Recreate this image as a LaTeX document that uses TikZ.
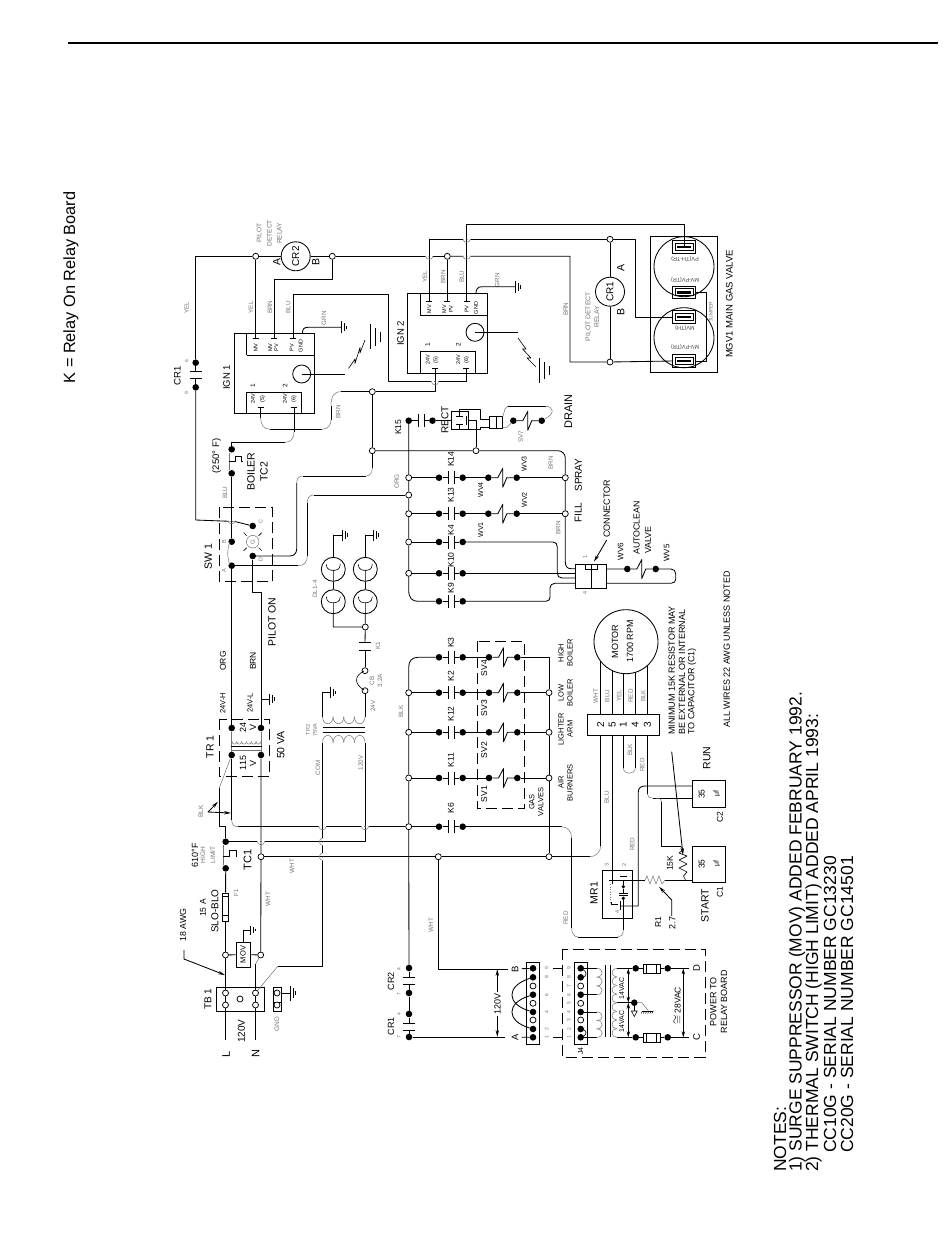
\documentclass[tikz,border=0pt]{standalone}
\usepackage{fontspec}
\setmainfont{Liberation Sans}
\usetikzlibrary{arrows.meta}
\newcount\labcnt
\definecolor{faint}{gray}{0.45}
\tikzset{
 wire/.style={line width=.85pt,black,line join=round},
 gwire/.style={line width=.5pt,faint},
 bx/.style={line width=.85pt,black},
 dbx/.style={line width=.85pt,black,dash pattern=on 11pt off 5pt},
 dotn/.style={circle,fill=black,draw=none,minimum size=6.6pt,inner sep=0pt},
 sdot/.style={circle,fill=black,draw=none,minimum size=3.6pt,inner sep=0pt},
 opn/.style={circle,draw=black,fill=white,line width=.75pt,minimum size=6pt,inner sep=0pt},
 ring/.style={circle,draw=black,line width=.85pt,inner sep=0pt},
 txt/.style={rotate=90,inner sep=0pt,black},
 ar/.style={wire,-{Stealth[length=7pt,width=3.4pt]}},
 dar/.style={wire,{Stealth[length=6pt,width=3.4pt]}-{Stealth[length=6pt,width=3.4pt]}},
}
\newcommand\lab[4]{\global\advance\labcnt by 1 \node[txt,font=\fontsize{#3}{#3}\selectfont] (lab\the\labcnt) at (#1,#2) {#4};}
\newcommand\glab[4]{\global\advance\labcnt by 1 \node[txt,text=faint,font=\fontsize{#3}{#3}\selectfont] (lab\the\labcnt) at (#1,#2) {#4};}
\newcommand\llab[4]{\global\advance\labcnt by 1 \node[txt,anchor=west,font=\fontsize{#3}{#3}\selectfont] (lab\the\labcnt) at (#1,#2) {#4};}
\newcommand\rlab[4]{\global\advance\labcnt by 1 \node[inner sep=0pt,rotate=180,text=black!75,font=\fontsize{#3}{#3}\selectfont] (lab\the\labcnt) at (#1,#2) {#4};}
\newcommand\Dot[3]{\node[dotn] (#1) at (#2,#3) {};}
\newcommand\Opn[3]{\node[opn] (#1) at (#2,#3) {};}
\newcommand\krow[3]{\Dot{#1a}{439}{#2}\Dot{#1b}{462.7}{#2}
 \draw[wire] (#1a) -- (448,#2) (448,#2-6.5) -- (448,#2+6.5) (454,#2-6.5) -- (454,#2+6.5) (454,#2) -- (#1b);
 \lab{451}{#3}{8.5}{#1}}
\newcommand\vlv[5]{\Dot{#1}{#3}{#5}\Dot{#2}{#4}{#5}
 \draw[wire] (#1) -- (#3+9.5,#5) -- (#3+14.5,#5-9.5) -- (#3+14.5,#5+9.5) -- (#3+18.5,#5) -- (#2);}
\newcommand\gnd[3]{\draw[wire] (#1,#2-#3) -- (#1,#2+#3) (#1+3,#2-#3*.65) -- (#1+3,#2+#3*.65) (#1+5.5,#2-#3*.3) -- (#1+5.5,#2+#3*.3);}
\newcommand\hopH[2]{\fill[white] (#1-3.6,#2-1) rectangle (#1-.6,#2+1) (#1+.6,#2-1) rectangle (#1+3.6,#2+1);
 \draw[gwire] (#1-3.6,#2) .. controls (#1-3.6,#2+4) and (#1+3.6,#2+4) .. (#1+3.6,#2);}
\newcommand\hopV[2]{\fill[white] (#1-1,#2-3.6) rectangle (#1+1,#2-.6) (#1-1,#2+.6) rectangle (#1+1,#2+3.6);
 \draw[gwire] (#1,#2-3.6) .. controls (#1-4,#2-3.6) and (#1-4,#2+3.6) .. (#1,#2+3.6);}
\newcommand\Tb[2]{\draw[wire] (#1-3,#2) -- (#1+3,#2);}
\newcommand\hcoil[6][gwire]{\pgfmathsetmacro\cw{(#3-#2)/#6}\foreach \i in {1,...,#6}{\draw[#1] ({#2+(\i-1)*\cw},#4) .. controls ({#2+(\i-1)*\cw},#5) and ({#2+\i*\cw},#5) .. ({#2+\i*\cw},#4);}}
\newcommand\vcoil[6][gwire]{\pgfmathsetmacro\cw{(#5-#4)/#6}\foreach \i in {1,...,#6}{\draw[#1] (#2,{#4+(\i-1)*\cw}) .. controls (#3,{#4+(\i-1)*\cw}) and (#3,{#4+\i*\cw}) .. (#2,{#4+\i*\cw});}}
\newcommand\lamp[3]{\node[ring,minimum size=24pt] (#1) at (#2,#3) {};
 \draw[wire,line width=.6pt] (#2,#3+12) -- (#2,#3+1) (#2-7,#3-5) .. controls (#2-7,#3+1) and (#2-2,#3+1) .. (#2,#3+1) .. controls (#2+2,#3+1) and (#2+7,#3+1) .. (#2+7,#3-5);}
\newcommand\gvt[2]{\draw[bx] (672.7,#2-6.3) rectangle (695.7,#2+6.3) (675.5,#2-3.6) rectangle (693,#2+3.6);
 \draw[black,line width=2.6pt] (677,#2) -- (691,#2); \coordinate (#1) at (673,#2);}
\begin{document}
\begin{tikzpicture}[x=1pt,y=-1pt]
\useasboundingbox (0,0) rectangle (950,1260);
\fill[white] (0,0) rectangle (950,1260);
\coordinate (ruleA) at (68,43); \coordinate (ruleB) at (938,43);
\draw[line width=1.7pt] (ruleA) -- (ruleB);
\lab{71}{287.5}{16.3}{K = Relay On Relay Board}

%% ---------- TB1, MOV, fuse
\draw[bx] (216,987) rectangle (264,1011);
\Opn{tbLa}{225.5}{993}\Opn{tbLb}{225.5}{1005}\Opn{tbC}{240}{999}\Opn{tbNa}{255.5}{993}\Opn{tbNb}{255.5}{1005}
\coordinate (Lend) at (225.5,1040); \coordinate (Nend) at (255.5,1040);
\Opn{movL}{225.5}{955}\Opn{movN}{260.7}{955}
\node[draw,bx,minimum width=14pt,minimum height=25pt,inner sep=0pt] (mov) at (243,954.5) {};
\lab{243}{954.5}{7.5}{MOV}
\node[draw,bx,minimum width=6pt,minimum height=28pt,inner sep=0pt] (fuse) at (225.5,907) {};
\draw[bx] (222.5,896.7) -- (228.5,896.7) (222.5,915.5) -- (228.5,915.5);
\draw[wire] (Lend) -- (tbLb) (tbLb) -- (tbLa) (tbLa) -- (movL) (movL) -- (fuse);
\draw[wire] (Nend) -- (tbNb) (tbNb) -- (tbNa) (tbNa) -- (255.5,964);
\draw[gwire] (255.5,964) -- (movN);
\draw[wire] (movL) -- (mov) (mov) -- (movN);
\draw[wire] (mov) -- (243,930) -- (250,930); \gnd{250}{930}{4.5}
\draw[gwire] (tbNa) -- (278,966);
\draw[wire] (278,966) -- (322.5,966) -- (322.5,742.7);
\draw[bx] (273,987) rectangle (281,1011) (273,1002) -- (281,1002);
\Opn{gndA}{277}{993}\Opn{gndB}{277}{1005}
\draw[wire] (281,993) -- (290,993); \gnd{290}{993}{7.5}
\coordinate (awgA) at (184,950); \coordinate (awgB) at (225,975);
\draw[ar] (awgA) -- (184,959) -- (awgB);
\lab{208}{999}{10}{TB 1}\lab{241.5}{1031}{10}{120V}\lab{226}{1054}{11}{L}\lab{255.5}{1054}{11}{N}
\glab{277}{1024}{6.5}{GND}\glab{236}{893}{6}{F1}\lab{203}{908}{8.5}{15 A}\lab{215}{911}{10}{SLO-BLO}
\lab{183}{925}{8.8}{18 AWG}\glab{268}{899}{6.3}{WHT}\glab{431}{925}{6.3}{WHT}

%% ---------- TC1, TR1
\Dot{tcA}{225.7}{841.7}\Dot{tcB}{225.7}{868.3}
\draw[wire] (fuse) -- (tcB);
\draw[gwire] (223,845) -- (223,865);
\draw[wire] (223,856.7) -- (229.3,856.7) -- (229.3,850.7) -- (236,850.7) -- (236,856.7);
\Opn{tcW}{261}{856.7}
\lab{195}{855}{9}{610°F}\glab{203}{855}{6.5}{HIGH}\glab{213}{855}{6.5}{LIMIT}\lab{247.7}{860}{11}{TC1}
\glab{292}{866}{6.3}{WHT}
\draw[dbx] (219.3,719) rectangle (269.3,776.7);
\Dot{trLt}{231.7}{728}\Dot{trRt}{261}{728}\Dot{trLb}{231.7}{755}\Dot{trRb}{261}{755}
\draw[gwire] (trLt) -- (trLb) (trRt) -- (trRb);
\hcoil{232}{261}{741.5}{745}{6}
\draw[wire,line width=.6pt] (231,746) -- (262,746); \draw[gwire] (231,750) -- (262,750);
\lab{243}{727.7}{9}{24}\lab{253}{727.7}{9}{V}\lab{243}{763}{9}{115}\lab{253}{763}{9}{V}
\lab{210}{746.7}{10.5}{TR 1}\lab{280.7}{745}{10.5}{50 VA}
\lab{222.7}{703}{7.5}{24V-H}\lab{250}{703}{7.5}{24V-L}\lab{223}{661}{8.5}{ORG}\lab{253}{661}{8.5}{BRN}
\draw[wire] (261,699) -- (269,699); \gnd{269}{699}{5.5}
\draw[gwire] (trLb) -- (219.3,788);
\draw[wire] (219.3,788) -- (219.3,826.7) -- (225.7,826.7) -- (tcA);
\Opn{k6o}{408.7}{826.7}
\draw[wire] (trLb) -- (231.7,820);
\draw[gwire] (231.7,820) .. controls (231.7,825) and (234,826.7) .. (238,826.7);
\draw[wire] (238,826.7) -- (k6o);
\coordinate (blkO) at (208,812);
\draw[ar] (blkO) -- (218,801.7);
\draw[ar] (blkO) -- (231,813);
\glab{201}{811.7}{6.5}{BLK}
\draw[wire] (tcA) -- (365,841.7) -- (365,742.7);
\draw[wire] (trRb) -- (tcW) (tcW) -- (movN);

%% ---------- TR2, CB, K1, lamps
\hcoil{322.5}{365}{716.7}{726}{4}
\draw[wire] (322.5,727) -- (365,727) (322.5,732) -- (365,732);
\hcoil{322.5}{365}{742.7}{733}{4}
\draw[wire] (322.5,717) -- (322.5,692.7) -- (330,692.7); \gnd{330}{692.7}{5.5}
\Opn{cbA}{365}{690.7}\Opn{cbB}{365}{670.7}
\draw[wire] (365,717) -- (cbA);
\draw[wire,line width=.6pt] (364,690) .. controls (354,684) and (354,676) .. (364,671);
\draw[wire] (cbB) -- (365,650.7) (359,650.7) -- (371,650.7) (359,642.7) -- (371,642.7);
\glab{308}{730}{5.5}{TR2}\glab{315}{730}{5.5}{75VA}\glab{318}{768}{6.3}{COM}\glab{360.7}{763}{6.3}{120V}
\glab{373}{706}{6.3}{24V}\glab{372}{680.7}{6.3}{CB}\glab{380}{680.7}{6.3}{3.2A}\glab{378}{646}{6.3}{K1}
\glab{315}{589}{6.3}{DL1-4}
\lamp{dlA}{333.3}{569.3}\lamp{dlB}{333.3}{601.7}\lamp{dlC}{365.3}{569.3}\lamp{dlD}{365.3}{601.7}
\Opn{dlJ}{365.3}{627}
\draw[wire] (dlA) -- (dlB) (dlC) -- (dlD);
\draw[wire] (dlB) -- (333.3,627) -- (dlJ) (dlD) -- (dlJ) (dlJ) -- (365,642.7);
\draw[wire] (dlA) -- (333.3,535) -- (342,535); \gnd{342}{535}{5.5}
\draw[wire] (dlC) -- (365.3,535) -- (373,535); \gnd{373}{535}{5.5}

%% ---------- SW1, TC2
\draw[dbx] (219.3,507.3) rectangle (272.3,581.7);
\Dot{swA}{231.7}{565.7}\Dot{swB}{231.7}{541.7}\Dot{swC}{252.7}{526}\Dot{swD}{252.7}{556}
\node[ring,line width=.5pt,draw=faint,minimum size=12.6pt] (swG) at (252.7,541.7) {};
\glab{252.7}{541.7}{6}{G}
\draw[wire,line width=.6pt] (246.7,535.7) -- (243.7,532.7) (258.7,535.7) -- (261.7,532.7) (246.7,547.7) -- (243.7,550.7) (258.7,547.7) -- (261.7,550.7);
\draw[gwire] (229.8,565) .. controls (227,556) and (227,550) .. (229.8,542);
\draw[wire] (swA) -- (trLt);
\draw[wire] (swD) -- (252.7,592.3) -- (261,592.3) -- (trRt);
\Dot{tc2A}{231.7}{449.3}\Dot{tc2B}{231.7}{473.3}
\draw[wire] (swB) -- (tc2B);
\draw[gwire] (229.5,453) -- (229.5,470);
\draw[wire] (229.3,461.7) -- (235,461.7) -- (235,456) -- (241,456) -- (241,461.7) -- (243.3,461.7);
\lab{216.7}{456}{9.5}{(250° F)}\lab{251}{471.7}{10.5}{BOILER}\lab{264}{471.7}{10.5}{TC2}
\glab{225}{492.7}{6.3}{BLU}\lab{208.3}{556.7}{10.5}{SW 1}
\glab{224}{571}{5.5}{A}\glab{224}{541.7}{5.5}{B}\glab{260.7}{521.7}{5.5}{C}\glab{260.7}{560}{5.5}{D}
\lab{272}{622}{10.5}{PILOT ON}
\Opn{busO}{408.7}{495}
\draw[wire] (swA) -- (298,565.7);
\draw[gwire] (298,565.7) .. controls (304,565.7) and (307.3,562) .. (307.3,556);
\draw[wire] (307.3,556) -- (307.3,503);
\draw[gwire] (307.3,503) .. controls (307.3,498) and (309,495) .. (314,495);
\draw[wire] (314,495) -- (busO);
\Opn{brnJ}{372.3}{450.7}\Opn{brnT}{372.3}{391.7}
\draw[wire] (swD) -- (290,556) .. controls (294,556) and (296.7,553) .. (296.7,549) -- (296.7,483);
\draw[gwire] (296.7,483) .. controls (296.7,478) and (299,476) .. (303,476);
\draw[wire] (303,476) -- (366,476);
\draw[gwire] (366,476) .. controls (370,476) and (372.3,473) .. (372.3,468);
\draw[wire] (372.3,468) -- (brnJ) (brnJ) -- (brnT);
\Dot{cr1a}{195.7}{362.7}\Dot{cr1b}{195.7}{387.3}
\draw[wire] (swC) -- (235,521.5) -- (195.7,520) -- (cr1b);
\draw[wire] (cr1b) -- (195.7,378.3) (189.7,378.3) -- (201.7,378.3) (189.7,371.7) -- (201.7,371.7) (195.7,371.7) -- (cr1a);
\lab{177.3}{376}{9.5}{CR1}\glab{186.7}{360.7}{5}{6}\glab{186.7}{393.3}{5}{9}\glab{186.7}{307.7}{6.3}{YEL}
\node[ring,minimum size=29pt] (cr2) at (295.7,256.3) {};
\lab{295.7}{256.3}{10}{CR2}
\Opn{yelJ}{255.7}{256.3}\Opn{brnK}{332.3}{256.3}\Opn{brnL}{447.3}{256.3}
\draw[wire] (cr1a) -- (195.7,256.3) -- (yelJ) (yelJ) -- (cr2) (cr2) -- (brnK) (brnK) -- (brnL);
\lab{276.7}{262.3}{10.5}{A}\lab{315.7}{262.3}{10.5}{B}
\glab{259}{233.3}{6.6}{PILOT}\glab{269.3}{233.3}{6.6}{DETECT}\glab{279.3}{233.3}{6.6}{RELAY}

%% ---------- IGN1
\draw[bx] (234.3,333.3) rectangle (314.7,413.3);
\draw[bx] (246.7,355) -| (314.7,333.3) (246.7,333.3) -- (246.7,355);
\draw[bx] (246.7,392.3) rectangle (301.7,413.3);
\lab{226.7}{377.3}{9.5}{IGN 1}
\lab{255.7}{347.7}{5.5}{MV}\lab{270.3}{347.7}{5.5}{MV}\lab{276.3}{347.7}{5.5}{PV}\lab{291.7}{347.7}{5.5}{PV}\lab{300.7}{346}{5.5}{GND}
\lab{253}{385.7}{6.5}{1}\lab{285}{385.7}{6.5}{2}\lab{253}{399}{5.5}{24V}\lab{262.7}{399}{5.5}{(5)}\lab{285}{399}{5.5}{24V}\lab{294}{399}{5.5}{(6)}
\draw[wire] (yelJ) -- (255.7,338.5); \Tb{255.7}{338.5}
\draw[wire] (brnK) -- (332.3,279.3) -- (274,279.3) -- (274,338.5); \Tb{274}{338.5}
\Tb{293.3}{338.5}
\draw[wire] (302.5,333) .. controls (302.5,329) and (304,327.3) .. (308,327.3) -- (341,327.3); \Tb{302.5}{333}\gnd{341}{327.3}{6}
\glab{251}{307.3}{6.3}{YEL}\glab{270}{307.3}{6.3}{BRN}\glab{288.3}{307.3}{6.3}{BLU}\glab{324}{318.3}{6.3}{GRN}
\node[ring,minimum size=18pt] (igA) at (301.7,374) {};
\coordinate (igAs) at (345,374);
\draw[wire] (igA.center) -- (igAs);
\draw[wire,line width=.6pt] (348.5,368.5) -- (355,359) -- (355,363.5) -- (360,347.5) -- (360,353) -- (365,340);
\draw[wire] (370,324.3) -- (370,349) (375.5,328) -- (375.5,345.5) (380,331.5) -- (380,342);
\Tb{260.7}{407.7}\Tb{294}{407.7}
\draw[wire] (260.7,407.7) -- (260.7,418);
\draw[gwire] (260.7,418) .. controls (260.7,425) and (264,429.3) .. (270,429.3);
\draw[wire] (270,429.3) -- (321.7,429.3);
\draw[gwire] (321.7,429.3) .. controls (328,429.3) and (331,425) .. (331,420);
\draw[wire] (331,420) -- (331,406);
\draw[gwire] (331,406) .. controls (331,396) and (334,391.7) .. (341,391.7);
\draw[wire] (341,391.7) -- (brnT) (brnT) -- (435,391.7) -- (435,368);
\draw[wire] (294,407.7) -- (294,432);
\draw[gwire] (294,432) .. controls (294,438) and (291,442.3) .. (285,442.3);
\draw[wire] (285,442.3) -- (231.7,442.3) -- (tc2A);
\glab{338.3}{411.7}{6.3}{BRN}

%% ---------- IGN2
\draw[bx] (407.3,293.3) rectangle (487.7,373.3);
\draw[bx] (420.7,293.3) |- (487.7,315.7);
\draw[bx] (420,351) rectangle (475.7,373.3);
\lab{400.7}{333.3}{9.5}{IGN 2}
\lab{429.3}{309.3}{5.5}{MV}\lab{444.3}{309.3}{5.5}{MV}\lab{451}{309.3}{5.5}{PV}\lab{466.7}{309.3}{5.5}{PV}\lab{476}{308}{5.5}{GND}
\lab{427.7}{345}{6.5}{1}\lab{458.3}{345}{6.5}{2}\lab{427.7}{360}{5.5}{24V}\lab{436}{360}{5.5}{(5)}\lab{458.3}{360}{5.5}{24V}\lab{466.7}{360}{5.5}{(6)}
\Tb{429.3}{301}\Tb{447.3}{301}\Tb{466.7}{301}\Tb{435}{368}\Tb{466}{368}
\draw[wire] (brnL) -- (447.3,301);
\glab{425}{276.7}{6.3}{YEL}\glab{443.3}{276.7}{6.3}{BRN}\glab{461.7}{276.7}{6.3}{BLU}\glab{497.3}{280}{6.3}{GRN}
\draw[wire] (476,293) .. controls (476,289) and (478,286.7) .. (482,286.7) -- (515,286.7); \Tb{476}{293}\gnd{515}{286.7}{6}
\node[ring,minimum size=18pt] (igB) at (475,332.3) {};
\coordinate (igBs) at (518.3,332.3);
\draw[wire] (igB.center) -- (igBs);
\draw[wire,line width=.6pt] (518,338) -- (526,349) -- (522.5,349) -- (531,358) -- (527,358) -- (536,367);
\draw[wire] (539,358) -- (539,383) (544,362) -- (544,379) (549,366) -- (549,375);
\draw[wire] (293.3,338.5) -- (293.3,294.3) -- (388.3,294.3) -- (388.3,381.7) -- (466,381.7) -- (466,368);

%% ---------- CR1 pilot relay and gas valve
\draw[bx] (650.3,236.7) rectangle (717.3,372.3);
\node[ring,minimum size=60pt] (gvA) at (684,266.7) {};
\node[ring,minimum size=60pt] (gvB) at (684,337.7) {};
\gvt{tA}{247}\gvt{tB}{292.3}\gvt{tC}{317}\gvt{tD}{361}
\rlab{685}{259.3}{5.5}{PV(TH-TR)}\rlab{685}{280}{5.5}{MV-PV(TR)}\rlab{685}{327.7}{5.5}{MV(TH)}\rlab{685}{347.3}{5.5}{MV-PV(TR)}
\draw[wire] (695.7,292.3) -- (706.7,292.3) -- (706.7,361) -- (695.7,361);
\glab{711}{311.7}{5}{JUMPER}\lab{729.3}{304}{9.5}{MGV1 MAIN GAS VALVE}
\node[ring,minimum size=29pt] (cr1r) at (610,291.7) {};
\lab{610}{291.7}{10}{CR1}
\Opn{cr1A}{610}{239.3}\Opn{cr1B}{610}{362}
\draw[wire] (cr1A) -- (cr1r) (cr1r) -- (cr1B);
\draw[wire] (429.3,301) -- (429.3,239.3) -- (cr1A) (cr1A) -- (635.7,239.3) -- (635.7,317) -- (tC);
\draw[wire] (466.7,301) -- (466.7,224) -- (684.7,224) -- (684.7,247);
\draw[wire] (brnL) -- (570,256.3) -- (570,362) -- (cr1B) (cr1B) -- (tD);
\lab{620.7}{268}{10.5}{A}\lab{620.7}{311.7}{10.5}{B}
\glab{588}{316.7}{6.8}{PILOT DETECT}\glab{596.7}{316.7}{6.8}{RELAY}\glab{565.7}{309.3}{6.3}{BRN}

%% ---------- K15, rectifier, drain valve
\Dot{kXa}{408.7}{420.7}\Dot{kXb}{432.5}{420.7}
\draw[wire] (kXa) -- (418.3,420.7) (418.3,414.2) -- (418.3,427.2) (424.3,414.2) -- (424.3,427.2) (424.3,420.7) -- (kXb);
\lab{398.3}{427.3}{8.5}{K15}\lab{445}{420}{10}{RECT}
\draw[bx] (451,411) rectangle (468.3,429);
\draw[wire] (kXb) -- (451,420.7);
\Opn{brnR}{476}{450.7}
\draw[wire] (459.3,417) -- (459.3,409.3) -- (480,409.3) -- (480,419) -- (489.3,419);
\draw[wire] (459.3,424) -- (459.3,429.3) -- (480,429.3) -- (480,427.3) -- (489.3,427.3);
\draw[wire] (456,416) -- (463,416) (456,424.3) -- (463,424.3) (466.5,416) -- (466.5,425);
\draw[wire] (468.3,420.7) -- (476,420.7) -- (brnR);
\draw[bx] (489.3,416.7) rectangle (502.7,428.3) (496,416.7) -- (496,428.3);
\vlv{svA}{svB}{513.3}{541.7}{420.7}
\draw[gwire] (502.7,417) -- (505,409) -- (508,406);
\draw[wire] (508,406) -- (546,406);
\draw[gwire] (546,406) .. controls (553,407) and (556,413) .. (svB);
\draw[gwire] (502.7,427.3) -- (507,427.3) -- (svA);
\glab{520.7}{436.7}{6.3}{SV7}\lab{568.3}{411.7}{11}{DRAIN}

%% ---------- upper relay rows
\Opn{r14}{408.7}{477.7}\Opn{r13}{408.7}{513.7}\Opn{r4}{408.7}{542}\Opn{r10}{408.7}{573.3}
\krow{K14}{477.7}{459.3}\krow{K13}{513.7}{495}\krow{K4}{542}{530}\krow{K10}{573.3}{560}\krow{K9}{601.3}{588}
\draw[wire] (kXa) -- (r14) (r14) -- (busO) (busO) -- (r13) (r13) -- (r4) (r4) -- (r10) (r10) -- (408.7,590) .. controls (408.7,598) and (412,601.3) .. (418,601.3) -- (K9a);
\draw[wire] (r14) -- (K14a) (r13) -- (K13a) (r4) -- (K4a) (r10) -- (K10a);
\glab{396.7}{481.7}{6.3}{ORG}
\vlv{wvD}{wvC}{488.3}{516.7}{477.7}
\vlv{wvA}{wvB}{488.3}{516.7}{513.7}
\Opn{sprO}{565.3}{477.7}\Opn{filO}{565.3}{513.7}
\draw[wire] (K14b) -- (wvD) (wvC) -- (sprO) (K13b) -- (wvA) (wvB) -- (filO);
\draw[wire] (brnJ) -- (brnR) (brnR) -- (558,450.7) .. controls (562,450.7) and (565.3,454) .. (565.3,458) -- (sprO) (sprO) -- (filO) (filO) -- (565.3,562) .. controls (565.3,566) and (567,568.7) .. (571,568.7) -- (575,568.7);
\glab{550.7}{462.7}{6.3}{BRN}\glab{558.3}{528}{6.3}{BRN}
\lab{578.3}{475}{10}{SPRAY}\lab{578.3}{512.7}{10}{FILL}
\lab{524.3}{464}{7}{WV3}\lab{524.3}{500}{7}{WV2}\lab{480.7}{490}{7}{WV4}\lab{480.7}{530}{7}{WV1}
\draw[bx] (575,564.3) rectangle (606.7,588.3) (591,564.3) -- (591,588.3) (585.7,564.3) rectangle (597.7,569);
\draw[wire] (K4b) -- (553,542) .. controls (556,542) and (557.3,544) .. (557.3,547) -- (557.3,573) .. controls (557.3,576) and (559,578) .. (562,578) -- (575,578);
\draw[wire] (K10b) -- (575,573.3);
\draw[wire] (K9b) -- (546,601.3) .. controls (549,601.3) and (550,599) .. (550,597) -- (550,588) .. controls (550,585) and (552,583.3) .. (555,583.3) -- (575,583.3);
\vlv{wvF}{wvG}{627.3}{655.7}{569}
\draw[wire] (606.7,569) -- (wvF) (wvG) -- (671,569) .. controls (674,569) and (675.7,571) .. (675.7,574) -- (675.7,579) .. controls (675.7,581.5) and (674,583.3) .. (671,583.3) -- (606.7,583.3);
\coordinate (connA) at (606.7,540); \coordinate (connB) at (594,561.7);
\draw[ar] (connA) -- (connB);
\lab{606.7}{509}{9}{CONNECTOR}\glab{585}{556.7}{5.5}{1}\glab{585}{592.7}{5.5}{4}
\lab{620.7}{551.7}{8}{WV6}\lab{636.7}{528}{8.8}{AUTOCLEAN}\lab{648}{540}{8.8}{VALVE}\lab{666.7}{553}{8}{WV5}

%% ---------- lower relay rows
\Opn{r2}{408.7}{692.7}\Opn{r12}{408.7}{732.3}\Opn{r11}{408.7}{778}
\krow{K3}{657.3}{642.5}\krow{K2}{692.7}{676}\krow{K12}{732.3}{714}\krow{K11}{778}{760}\krow{K6}{826.7}{808}
\Dot{cr2a}{409}{968}\Dot{cr2b}{409}{993}\Dot{crBa}{409}{1014}\Dot{crBb}{409}{1037}
\draw[wire] (K3a) -- (418,657.3) .. controls (412,657.3) and (408.7,661) .. (408.7,667) -- (r2) (r2) -- (r12) (r12) -- (r11) (r11) -- (k6o) (k6o) -- (cr2a);
\draw[wire] (r2) -- (K2a) (r12) -- (K12a) (r11) -- (K11a) (k6o) -- (K6a);
\draw[wire] (cr2a) -- (409,977) (403,977) -- (415,977) (403,984) -- (415,984) (409,984) -- (cr2b) (crBa) -- (409,1023.3) (403,1023.3) -- (415,1023.3) (403,1030) -- (415,1030) (409,1030) -- (crBb);
\draw[wire] (cr2b) -- (crBa);
\lab{391}{981}{9}{CR2}\lab{391}{1026}{9}{CR1}\glab{399}{969}{5}{4}\glab{399}{994}{5}{7}\glab{399}{1014}{5}{4}\glab{399}{1037}{5}{7}
\glab{401}{711.7}{6.3}{BLK}
\vlv{s4a}{s4b}{489}{517.3}{657.3}
\vlv{s3a}{s3b}{489}{517.3}{692.7}
\vlv{s2a}{s2b}{489}{517.3}{732.3}
\vlv{s1a}{s1b}{489}{517.3}{778}
\draw[dbx] (477.3,641) rectangle (524.3,808.3);
\draw[wire] (K3b) -- (s4a) (K2b) -- (s3a) (K12b) -- (s2a) (K11b) -- (s1a);
\Opn{rR2}{549}{692.7}\Opn{rR12}{549}{732.3}\Opn{rR11}{549}{778}\Opn{rRW}{549}{856.7}
\draw[wire] (s4b) -- (549,657.3) -- (rR2) (rR2) -- (rR12) (rR12) -- (rR11) (rR11) -- (rRW);
\draw[wire] (s3b) -- (rR2) (s2b) -- (rR12) (s1b) -- (rR11);
\lab{484.3}{668}{8.5}{SV4}\lab{484.3}{708}{8.5}{SV3}\lab{484.3}{750}{8.5}{SV2}\lab{484.3}{794}{8.5}{SV1}
\lab{531.7}{802}{7.5}{GAS}\lab{540.7}{802}{7.5}{VALVES}
\lab{561}{782.7}{7.5}{AIR}\lab{570}{782.7}{7.5}{BURNERS}\lab{561}{729}{7.5}{LIGHTER}\lab{570}{729}{7.5}{ARM}
\lab{561}{692.7}{7.5}{LOW}\lab{570}{692.7}{7.5}{BOILER}\lab{561}{653}{7.5}{HIGH}\lab{570}{653}{7.5}{BOILER}
\Opn{wht2}{438.3}{856.7}
\draw[wire] (tcW) -- (wht2) (wht2) -- (rRW) (rRW) -- (590,856.7);
\draw[gwire] (590,856.7) .. controls (596,856.7) and (600.7,852) .. (600.7,846);
\coordinate (blockB) at (508,969);
\draw[wire] (wht2) -- (438.3,969) -- (blockB);
\coordinate (blockA) at (505,1037);
\draw[wire] (crBb) -- (blockA);

%% ---------- motor
\node[ring,minimum size=64pt] (motor) at (626,641.7) {};
\lab{615}{641.7}{9}{MOTOR}\lab{630}{641.7}{9}{1700 RPM}
\draw[bx] (587.3,714.3) rectangle (659.3,735.3);
\draw[wire] (600.7,661) -- (600.7,714.3) (612.3,670.7) -- (612.3,714.3) (623.3,673.6) -- (623.3,714.3) (635.3,672.3) -- (635.3,714.3) (647.3,665.6) -- (647.3,714.3);
\lab{600.7}{725}{10}{2}\lab{612.3}{725}{10}{5}\lab{623.3}{725}{10}{1}\lab{635.3}{725}{10}{4}\lab{647.3}{725}{10}{3}
\glab{595.7}{696}{6.3}{WHT}\glab{607.3}{696}{6.3}{BLU}\glab{619.3}{696}{6.3}{YEL}\glab{630.7}{696}{6.3}{RED}\glab{643.3}{696}{6.3}{BLK}
\draw[wire] (600.7,735.3) -- (600.7,846);
\draw[wire] (612.3,735.3) -- (612.3,880);
\draw[wire] (623.3,735.3) -- (623.3,768);
\draw[gwire] (623.3,768) .. controls (623.3,775) and (635.3,775) .. (635.3,768);
\draw[wire] (635.3,768) -- (635.3,735.3);
\draw[wire] (647.3,735.3) -- (647.3,794);
\draw[gwire] (647.3,794) .. controls (647.3,797) and (650,798.3) .. (653,798.3);
\glab{630}{750}{6.3}{BLK}\glab{642.3}{765}{6.3}{RED}\glab{606.7}{797.3}{6.3}{BLU}\glab{632.3}{844.3}{6.3}{RED}\glab{565.7}{918}{6.3}{RED}
\draw[bx] (692.3,780.7) rectangle (725.3,807.3);
\draw[bx] (692.3,846.7) rectangle (725.3,882);
\lab{701.7}{794}{8.5}{35}\lab{716.7}{794}{7}{µf}\lab{701.7}{864}{8.5}{35}\lab{716.7}{864}{7}{µf}
\lab{706.7}{758}{10.5}{RUN}\lab{720}{816.7}{8.5}{C2}\lab{705}{905.7}{10.5}{START}\lab{720}{891.7}{8.5}{C1}
\draw[wire] (692.3,786) -- (645,786) .. controls (641,786) and (638.3,788) .. (638.3,792) -- (638.3,906) -- (620,906);
\draw[wire] (653,798.3) -- (692.3,798.3);
\draw[gwire] (656,798.3) .. controls (660,798.3) and (661.7,799) .. (661.7,802);
\draw[wire] (661.7,802) -- (661.7,846.7) -- (681,846.7);
\draw[wire,line width=.65pt] (681,846.7) -- (683,850) -- (679,853) -- (687,856) -- (679,860) -- (687,864) -- (679,868) -- (687,872) -- (683.5,876) -- (685.5,880);
\coordinate (rArrowA) at (671.7,751.7); \coordinate (rArrowB) at (683,855);
\draw[ar] (rArrowA) -- (rArrowB);
\lab{670}{863.3}{8.5}{15K}
\llab{671.7}{735}{9}{MINIMUM 15K RESISTOR MAY}
\llab{682}{735}{9}{BE EXTERNAL OR INTERNAL}
\llab{692}{735}{9}{TO CAPACITOR (C1)}
\llab{726.7}{728}{9}{ALL WIRES 22 AWG UNLESS NOTED}
\draw[bx] (602.7,870) rectangle (632.7,918.3);
\lab{594}{893}{10.5}{MR1}\glab{606.7}{865}{5.5}{3}\glab{624.3}{865}{5.5}{2}\glab{617.3}{911.7}{5.5}{4}
\draw[wire] (609,880) -- (645,880);
\draw[wire,line width=.5pt] (612,876) -- (612,884) (620,876.5) -- (627,876.5);
\draw[gwire,dotted,line width=.8pt] (610.7,884) -- (610.7,902);
\draw[wire] (611,902) -- (611,904.3) -- (618,904.3) (620,901) -- (620,910);
\node[sdot] (mrA) at (623.3,886.7) {}; \node[sdot] (mrB) at (623.3,898.3) {};
\draw[wire] (623.3,880) -- (mrA) (mrA) -- (623.3,893.3) (619,893.3) -- (627.7,893.3) (619,895.3) -- (627.7,895.3) (623.3,895.3) -- (mrB);
\draw[wire] (mrB) -- (623.3,930);
\draw[gwire] (623.3,930) .. controls (623.3,935) and (621,937) .. (618,937);
\draw[wire] (618,937) -- (578,937);
\draw[gwire] (578,937) .. controls (574,937) and (571.7,933) .. (571.7,928);
\draw[wire] (571.7,928) -- (571.7,838);
\draw[gwire] (571.7,838) .. controls (571.7,831) and (567,826.7) .. (561.7,826.7);
\draw[wire] (K6b) -- (561.7,826.7);
\draw[gwire] (645,880) -- (647,876) -- (650,884) -- (653,876) -- (656,884) -- (659,876) -- (662,884) -- (665,880);
\draw[wire] (665,880) -- (692.3,880);
\coordinate (rOneA) at (671.7,916); \coordinate (rOneB) at (659,886.7);
\draw[ar] (rOneA) -- (671.7,900) -- (rOneB);
\lab{658.3}{922}{8.5}{R1}\lab{672.3}{923}{9}{2.7}

%% ---------- power to relay board
\draw[bx] (526.7,962.7) rectangle (539.3,1044);
\Dot{a1}{533}{1037.3}\Dot{a2}{533}{1029}\Opn{a3}{533}{1020}\Dot{a4}{533}{1012}\Opn{a5}{533}{1003.3}\Dot{a6}{533}{994.7}\Opn{a7}{533}{986}\Dot{a8}{533}{977.3}\Dot{a9}{533}{968.3}
\draw[wire] (521.7,1037.3) -- (a1) (521.7,968.7) -- (a9);
\draw[wire] (a8) .. controls (506,986) and (506,1004) .. (a4);
\draw[wire] (a6) .. controls (506,1003) and (506,1021) .. (a2);
\lab{515}{1037}{9.5}{A}\lab{515}{969}{9.5}{B}
\coordinate (vA) at (497.3,969); \coordinate (vB) at (497.3,1037); \coordinate (vMa) at (497.3,992); \coordinate (vMb) at (497.3,1016);
\draw[ar] (vMa) -- (vA); \draw[ar] (vMb) -- (vB);
\lab{497.5}{1004}{9}{120V}
\glab{546.7}{1037.3}{5}{1}\glab{546.7}{1029}{5}{2}\glab{546.7}{1012}{5}{4}\glab{546.7}{994.7}{5}{6}\glab{546.7}{977.3}{5}{8}\glab{546.7}{968.3}{5}{9}
\draw[wire] (553,1037.3) -- (561.5,1037.3) (553,968.3) -- (561.5,968.3);
\draw[dbx] (562.3,949.3) rectangle (705.3,1057.3);
\draw[bx] (574.3,962.7) rectangle (587.3,1044);
\Dot{b1}{580.7}{1037.3}\Dot{b2}{580.7}{1029}\Opn{b3}{580.7}{1020}\Dot{b4}{580.7}{1012}\Opn{b5}{580.7}{1003.3}\Dot{b6}{580.7}{994.7}\Opn{b7}{580.7}{986}\Dot{b8}{580.7}{977.3}\Dot{b9}{580.7}{968.3}
\foreach \n/\yy in {1/1037.3,2/1029,3/1020,4/1012,5/1003.3,6/994.7,7/986,8/977.3,9/968.3}{\glab{569}{\yy}{5}{\n}}
\lab{580.7}{1051}{7}{J4}
\draw[wire,line width=.6pt] (582,969) .. controls (588,972) and (587,976) .. (582,978) (582,1029) .. controls (587,1031) and (588,1034) .. (582,1037);
\draw[wire] (b9) -- (596.7,968.3) (b6) -- (596.7,994.7) (b4) -- (596.7,1012) (b1) -- (596.7,1037.3);
\vcoil{596.7}{604}{968.3}{994.7}{3}
\vcoil{596.7}{604}{1012}{1037.3}{3}
\draw[wire] (605,965) -- (605,1037.3) (610,965) -- (610,1037.3);
\vcoil{616.7}{610.5}{968.3}{1002.7}{4}
\vcoil{616.7}{610.5}{1002.7}{1037.3}{4}
\Dot{dTop}{635.7}{968.3}\Dot{dBot}{635.7}{1037.3}\Dot{dMid}{634.3}{1002.7}
\Dot{eTop}{667.7}{968.3}\Dot{eBot}{667.7}{1037.3}
\draw[wire] (616.7,968.3) -- (dTop) (616.7,1002.7) -- (dMid) (616.7,1037.3) -- (dBot);
\draw[wire] (dTop) -- (643.3,968.3) (660.7,968.3) -- (eTop) (dBot) -- (643.3,1037.3) (660.7,1037.3) -- (eBot);
\draw[wire] (eTop) -- (689.3,968.3) (eBot) -- (689.3,1037.3);
\draw[bx] (643.3,964) rectangle (660.7,973) (646.7,964) -- (646.7,973) (656.7,964) -- (656.7,973);
\draw[bx] (643.3,1033) rectangle (660.7,1042) (646.7,1033) -- (646.7,1042) (656.7,1033) -- (656.7,1042);
\coordinate (u1) at (628.3,968.3); \coordinate (u2) at (628.3,1002.7); \coordinate (u3) at (628.3,1037.3);
\draw[dar] (u1) -- (u2); \draw[dar] (u2) -- (u3);
\coordinate (w1) at (683.3,968.3); \coordinate (w2) at (683.3,1037.3);
\draw[dar] (w1) -- (w2);
\draw[wire] (dMid) -- (634.3,1011);
\draw[wire,line width=.6pt] (631.4,1011) -- (637.2,1011) -- (634.3,1016.5) -- cycle;
\draw[gwire] (dMid) -- (641.7,1002.7) -- (648.3,1010.5);
\draw[wire,line width=.6pt] (641.7,1011) -- (653.3,1011);
\foreach \hh in {642.5,644.7,646.9,649.1,651.3,653.3}{\draw[line width=.4pt] (\hh,1011) -- (\hh-1.5,1013.5);}
\lab{621.7}{988.3}{7}{14VAC}\lab{621.7}{1021.7}{7}{14VAC}\lab{677.7}{1000}{8.5}{28VAC}\lab{677.7}{1020}{12}{$\cong$}
\lab{696.5}{968.3}{9.5}{D}\lab{696.5}{1037.3}{9.5}{C}
\lab{713.3}{1001.7}{9}{POWER TO}\lab{724}{1001.7}{9}{RELAY BOARD}

%% ---------- notes
\llab{780}{1172}{17.5}{NOTES:}
\llab{797}{1172}{17.5}{1) SURGE SUPPRESSOR (MOV) ADDED FEBRUARY 1992.}
\llab{813.5}{1172}{17.5}{2) THERMAL SWITCH (HIGH LIMIT) ADDED APRIL 1993:}
\llab{830}{1153}{17.5}{CC10G - SERIAL NUMBER GC13230}
\llab{847}{1153}{17.5}{CC20G - SERIAL NUMBER GC14501}

%% ---------- wire hops
\hopH{261}{841.7}\hopH{322.5}{826.7}\hopH{365}{826.7}\hopV{322.5}{841.7}\hopV{322.5}{856.7}
\hopH{231.7}{520.7}\hopH{429.3}{256.3}\hopH{466.7}{256.3}\hopH{466.7}{239.3}\hopH{435}{381.7}
\end{tikzpicture}
\end{document}
